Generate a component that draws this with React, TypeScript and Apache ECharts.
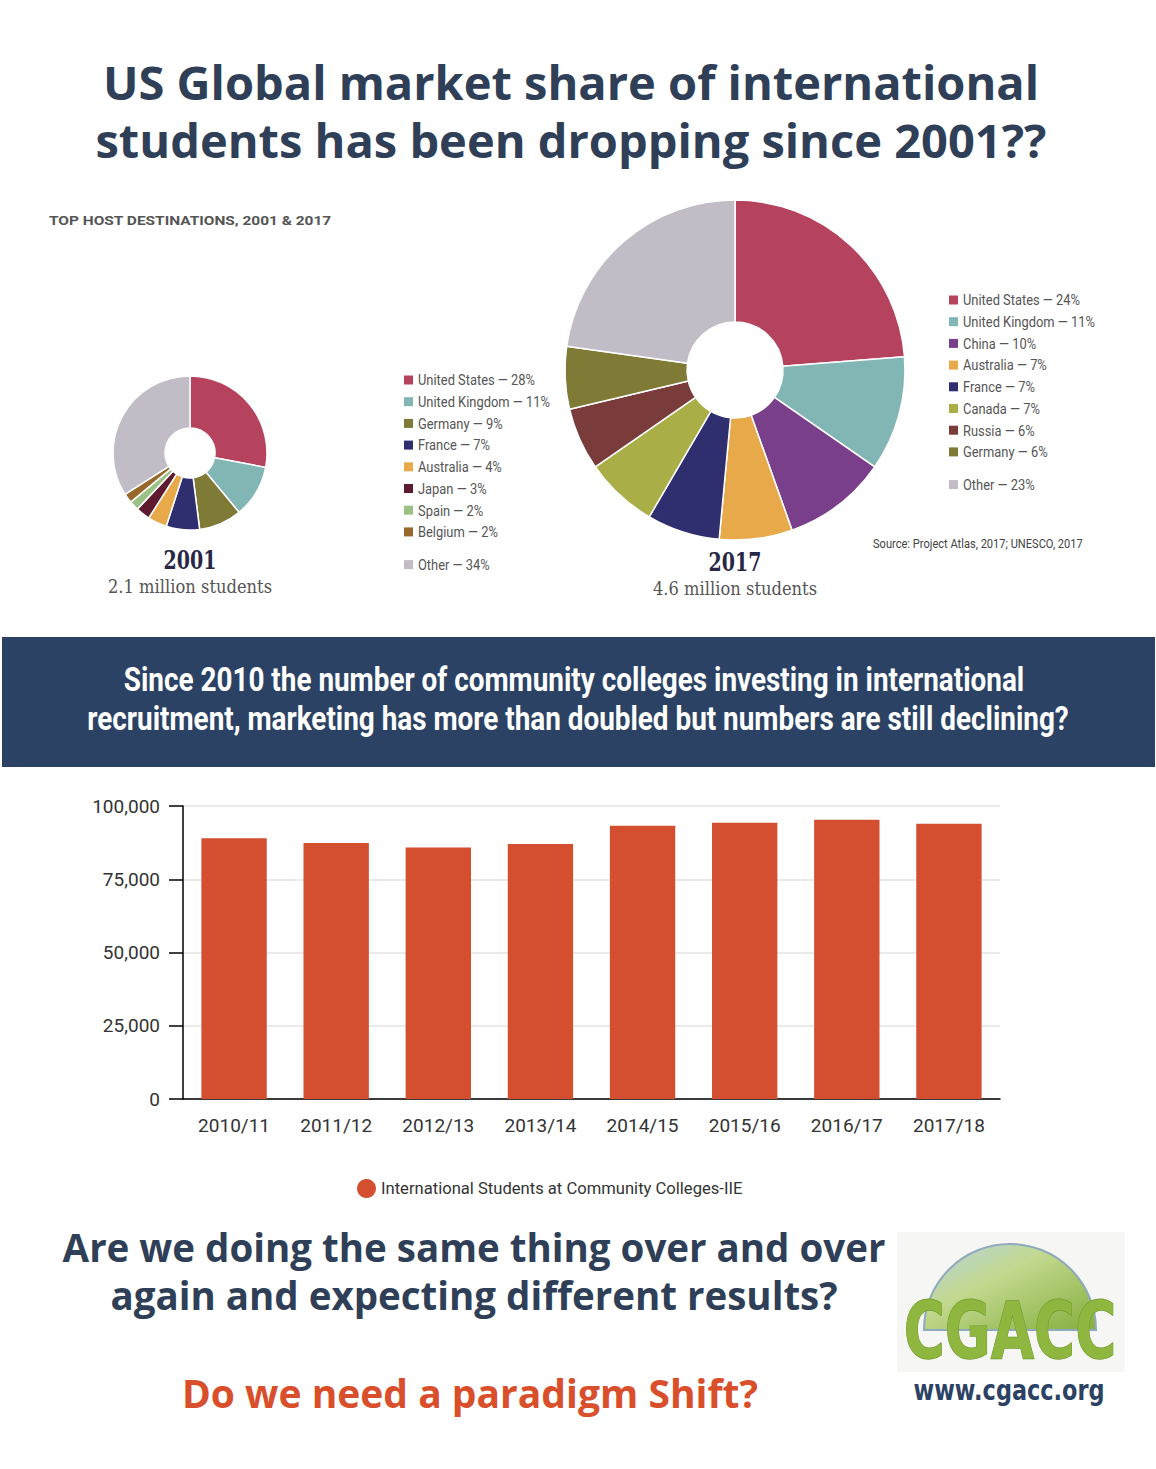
import React, { useEffect, useRef } from "react";
import * as echarts from "echarts";

// ---- Data ----
const names2001 = ["United States", "United Kingdom", "Germany", "France", "Australia", "Japan", "Spain", "Belgium", "Other"];
const values2001 = [28, 11, 9, 7, 4, 3, 2, 2, 34];
const colors2001 = ["#b5435e", "#82b6b4", "#7f7b36", "#2f2e6e", "#e8a94a", "#5e1b30", "#9cc184", "#96682b", "#c1bcc5"];

const names2017 = ["United States", "United Kingdom", "China", "Australia", "France", "Canada", "Russia", "Germany", "Other"];
const values2017 = [24, 11, 10, 7, 7, 7, 6, 6, 23];
const colors2017 = ["#b5435e", "#82b6b4", "#7a3f8a", "#e8a94a", "#2f2e6e", "#a9ae47", "#7a3b3b", "#7f7b36", "#c1bcc5"];

const years = ["2010/11", "2011/12", "2012/13", "2013/14", "2014/15", "2015/16", "2016/17", "2017/18"];
const students = [89000, 87400, 85800, 87000, 93300, 94300, 95300, 93900];
const seriesName = "International Students at Community Colleges-IIE";

const NAVY = "#2f3f57";

function legendItems(names: string[], values: number[], colors: string[], x: number, y0: number, step: number, otherGap: number) {
  const items: any[] = [];
  names.forEach((n, i) => {
    const isOther = i === names.length - 1;
    const y = y0 + i * step + (isOther ? otherGap : 0);
    items.push({ type: "rect", shape: { x, y: y - 4.5, width: 9, height: 9 }, style: { fill: colors[i] } });
    items.push({
      type: "text",
      x: x + 14,
      y,
      scaleX: 0.86,
      style: { text: `${n} \u2014 ${values[i]}%`, font: '15px Roboto', fill: "#555", textAlign: "left", textVerticalAlign: "middle" },
    });
  });
  return items;
}

export default function App() {
  const ref = useRef<HTMLDivElement>(null);
  useEffect(() => {
    if (!ref.current) return;
    const chart = echarts.init(ref.current, undefined, { renderer: "svg" });

    const graphic: any[] = [
      { type: "text", x: 571, y: 111, style: { text: "US Global market share of international\nstudents has been dropping since 2001??", font: 'bold 47px "Open Sans"', lineHeight: 58, fill: NAVY, textAlign: "center", textVerticalAlign: "middle" } },
      { type: "text", x: 49, y: 220, scaleX: 1.19, style: { text: "TOP HOST DESTINATIONS, 2001 & 2017", font: 'bold 13px Roboto', fill: "#555", textAlign: "left", textVerticalAlign: "middle" } },
      ...legendItems(names2001, values2001, colors2001, 404, 380, 21.7, 11),
      ...legendItems(names2017, values2017, colors2017, 949, 300, 21.7, 11),
      { type: "text", x: 190, y: 560, scaleX: 0.73, style: { text: "2001", font: 'bold 26px "DejaVu Serif"', fill: "#262845", textAlign: "center", textVerticalAlign: "middle" } },
      { type: "text", x: 190, y: 587, scaleX: 0.86, style: { text: "2.1 million students", font: '19px "DejaVu Serif"', fill: "#555", textAlign: "center", textVerticalAlign: "middle" } },
      { type: "text", x: 735, y: 562, scaleX: 0.73, style: { text: "2017", font: 'bold 26px "DejaVu Serif"', fill: "#262845", textAlign: "center", textVerticalAlign: "middle" } },
      { type: "text", x: 735, y: 589, scaleX: 0.86, style: { text: "4.6 million students", font: '19px "DejaVu Serif"', fill: "#555", textAlign: "center", textVerticalAlign: "middle" } },
      { type: "text", x: 873, y: 544, scaleX: 0.925, style: { text: "Source: Project Atlas, 2017; UNESCO, 2017", font: '12px Roboto', fill: "#444", textAlign: "left", textVerticalAlign: "middle" } },
      { type: "rect", shape: { x: 2, y: 637, width: 1153, height: 130 }, style: { fill: "#2b4264" } },
      { type: "text", x: 574, y: 680, scaleX: 0.845, style: { text: "Since 2010 the number of community colleges investing in international", font: 'bold 33px Roboto', fill: "#fff", textAlign: "center", textVerticalAlign: "middle" } },
      { type: "text", x: 578, y: 719, scaleX: 0.845, style: { text: "recruitment, marketing has more than doubled but numbers are still declining?", font: 'bold 33px Roboto', fill: "#fff", textAlign: "center", textVerticalAlign: "middle" } },
      { type: "text", x: 474, y: 1271, style: { text: "Are we doing the same thing over and over\nagain and expecting different results?", font: 'bold 38.5px "Open Sans"', lineHeight: 47.5, fill: NAVY, textAlign: "center", textVerticalAlign: "middle" } },
      { type: "text", x: 470, y: 1392, style: { text: "Do we need a paradigm Shift?", font: 'bold 39px "Open Sans"', fill: "#d94f2b", textAlign: "center", textVerticalAlign: "middle" } },
      // logo
      { type: "rect", shape: { x: 897, y: 1232, width: 228, height: 140 }, style: { fill: "#f6f7f5" } },
      {
        type: "sector",
        shape: { cx: 1010, cy: 1330, r: 86, r0: 0, startAngle: Math.PI, endAngle: Math.PI * 2 },
        style: {
          fill: new echarts.graphic.LinearGradient(0, 0, 1, 1, [
            { offset: 0, color: "#b9d2e3" },
            { offset: 0.4, color: "#c2d98f" },
            { offset: 1, color: "#86ad3c" },
          ]),
          stroke: "#8fa9bd",
          lineWidth: 2,
        },
      },
      { type: "text", x: 1010, y: 1331, scaleY: 1.4, style: { text: "CGACC", font: 'bold 56px "DejaVu Sans"', fill: "#8fb63e", stroke: "#6f9a2c", lineWidth: 1, textAlign: "center", textVerticalAlign: "middle" } },
      { type: "text", x: 1009, y: 1390, scaleX: 0.8, style: { text: "www.cgacc.org", font: 'bold 28px "DejaVu Sans"', fill: "#2b4264", textAlign: "center", textVerticalAlign: "middle" } },
    ];

    chart.setOption({
      animation: false,
      backgroundColor: "#fff",
      legend: {
        data: [seriesName],
        left: 352,
        top: 1174,
        icon: "circle",
        itemWidth: 19,
        itemHeight: 19,
        textStyle: { fontFamily: "Roboto", fontSize: 16.6, color: "#333" },
      },
      grid: { left: 183, top: 806, width: 817, height: 293, containLabel: false },
      xAxis: {
        type: "category",
        data: years,
        axisLine: { lineStyle: { color: "#000", width: 1.5 } },
        axisTick: { alignWithLabel: true, length: 14, lineStyle: { color: "#000", width: 1.5 } },
        axisLabel: { fontFamily: "Roboto", fontSize: 19, color: "#333", margin: 17 },
      },
      yAxis: {
        type: "value",
        min: 0,
        max: 100000,
        interval: 25000,
        axisLine: { show: true, lineStyle: { color: "#000", width: 1.5 } },
        axisTick: { show: true, length: 14, lineStyle: { color: "#000", width: 1.5 } },
        axisLabel: {
          fontFamily: "Roboto",
          fontSize: 19,
          color: "#333",
          margin: 23,
          formatter: (v: number) => v.toLocaleString("en-US"),
        },
        splitLine: { lineStyle: { color: "#e3e3e3", width: 1.5 } },
      },
      series: [
        {
          type: "pie",
          name: "2001",
          center: [190, 453],
          radius: [25, 77],
          startAngle: 90,
          clockwise: true,
          label: { show: false },
          labelLine: { show: false },
          emphasis: { disabled: true },
          itemStyle: { borderColor: "#fff", borderWidth: 1.5 },
          data: names2001.map((n, i) => ({ name: n, value: values2001[i], itemStyle: { color: colors2001[i] } })),
        },
        {
          type: "pie",
          name: "2017",
          center: [735, 370],
          radius: [48, 170],
          startAngle: 90,
          clockwise: true,
          label: { show: false },
          labelLine: { show: false },
          emphasis: { disabled: true },
          itemStyle: { borderColor: "#fff", borderWidth: 1.5 },
          data: names2017.map((n, i) => ({ name: n, value: values2017[i], itemStyle: { color: colors2017[i] } })),
        },
        {
          type: "bar",
          name: seriesName,
          data: students,
          barWidth: "64%",
          itemStyle: { color: "#d44f30" },
        },
      ],
      graphic,
    });
    return () => chart.dispose();
  }, []);
  return <div ref={ref} style={{ position: "absolute", left: 0, top: 0, width: 1156, height: 1469 }} />;
}
